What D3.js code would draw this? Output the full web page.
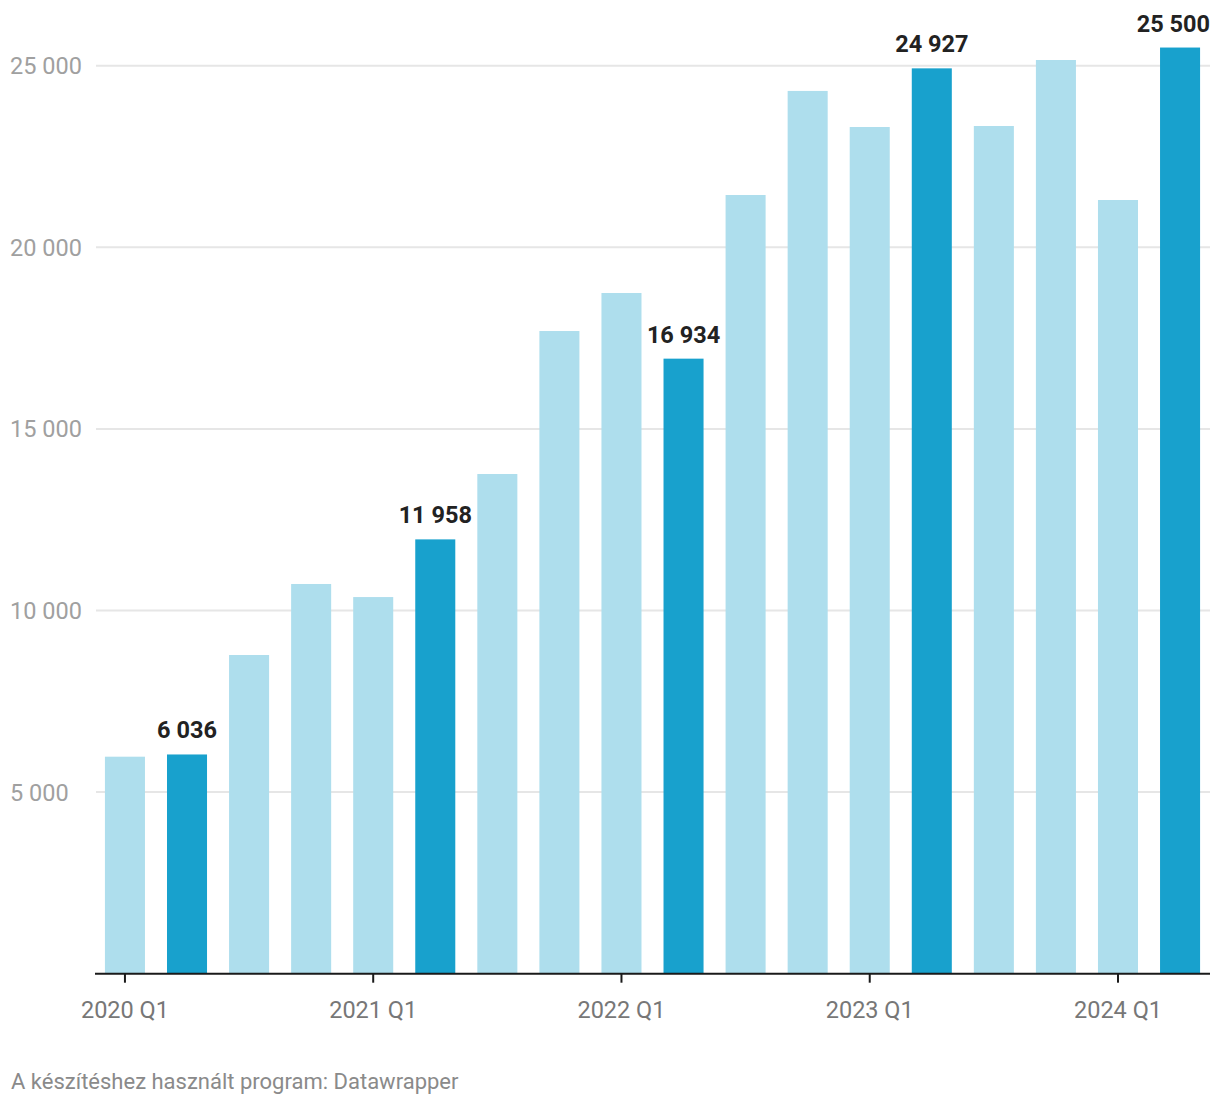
<!DOCTYPE html>
<html>
<head>
<meta charset="utf-8">
<script src="https://cdn.jsdelivr.net/npm/d3@7"></script>
<style>
  html, body { margin: 0; padding: 0; background: #fff; }
  svg { display: block; font-family: Roboto, "Noto Sans", sans-serif; }
</style>
</head>
<body>
<svg id="chart" width="1220" height="1106"></svg>
<script>
const categories = ["2020 Q1","2020 Q2","2020 Q3","2020 Q4","2021 Q1","2021 Q2","2021 Q3","2021 Q4",
  "2022 Q1","2022 Q2","2022 Q3","2022 Q4","2023 Q1","2023 Q2","2023 Q3","2023 Q4","2024 Q1","2024 Q2"];
const values = [5975, 6036, 8775, 10730, 10370, 11958, 13758, 17695, 18742, 16934, 21440, 24305, 23312, 24927, 23340, 25157, 21302, 25500];
const highlighted = ["2020 Q2","2021 Q2","2022 Q2","2023 Q2","2024 Q2"];
const xTickLabels = ["2020 Q1","2021 Q1","2022 Q1","2023 Q1","2024 Q1"];
const yTicks = [5000, 10000, 15000, 20000, 25000];
const footer = "A készítéshez használt program: Datawrapper";

const svg = d3.select("#chart");
const mLeft = 95, mRight = 1210, mTop = 65.7, mBottom = 973.7;
const fmt = v => d3.format(",")(v).replace(/,/g, " ");

const x = d3.scaleBand().domain(categories).range([mLeft, mRight]).paddingInner(0.355).paddingOuter(0.16);
const y = d3.scaleLinear().domain([0, 25000]).range([mBottom, mTop]);

// gridlines
const grid = svg.append("g");
grid.selectAll("line").data(yTicks).join("line")
  .attr("x1", mLeft + 1).attr("x2", mRight)
  .attr("y1", d => y(d)).attr("y2", d => y(d))
  .attr("stroke", "#e6e6e6").attr("stroke-width", 2);
grid.selectAll("text").data(yTicks).join("text")
  .attr("x", 10).attr("y", d => y(d))
  .attr("dy", "0.36em")
  .attr("fill", "#a0a0a0").attr("font-size", 23.5)
  .text(d => fmt(d));

// bars
svg.append("g").selectAll("rect").data(categories).join("rect")
  .attr("x", d => x(d)).attr("width", x.bandwidth())
  .attr("y", (d, i) => y(values[i]))
  .attr("height", (d, i) => y(0) - y(values[i]))
  .attr("fill", d => highlighted.includes(d) ? "#18a1cd" : "#aedeed");

// value labels
const vl = svg.append("g").selectAll("text").data(categories.filter(c => highlighted.includes(c))).join("text")
  .attr("x", d => x(d) + x.bandwidth() / 2)
  .attr("y", d => y(values[categories.indexOf(d)]) - 16)
  .attr("text-anchor", "middle")
  .attr("font-size", 23.5).attr("font-weight", 700).attr("fill", "#222")
  .text(d => fmt(values[categories.indexOf(d)]));
// keep labels inside the chart's right edge
vl.each(function () {
  const bb = this.getBBox();
  const over = bb.x + bb.width - mRight;
  if (over > 0) d3.select(this).attr("x", +d3.select(this).attr("x") - over);
});

// x axis
const xAxis = d3.axisBottom(x).tickValues(xTickLabels).tickSize(9).tickSizeOuter(0).tickPadding(19);
const gx = svg.append("g").attr("transform", `translate(0,${mBottom})`).call(xAxis);
gx.select(".domain").attr("stroke", "#1a1a1a").attr("stroke-width", 2).attr("d", `M${mLeft},0H${mRight}`);
gx.selectAll(".tick line").attr("stroke", "#1a1a1a").attr("stroke-width", 2);
gx.selectAll(".tick text").attr("fill", "#777").attr("font-size", 23.5).attr("font-family", "Roboto, sans-serif");

// footer
svg.append("text").attr("x", 11).attr("y", 1089)
  .attr("fill", "#8a8a8a").attr("font-size", 22)
  .text(footer);
</script>
</body>
</html>
